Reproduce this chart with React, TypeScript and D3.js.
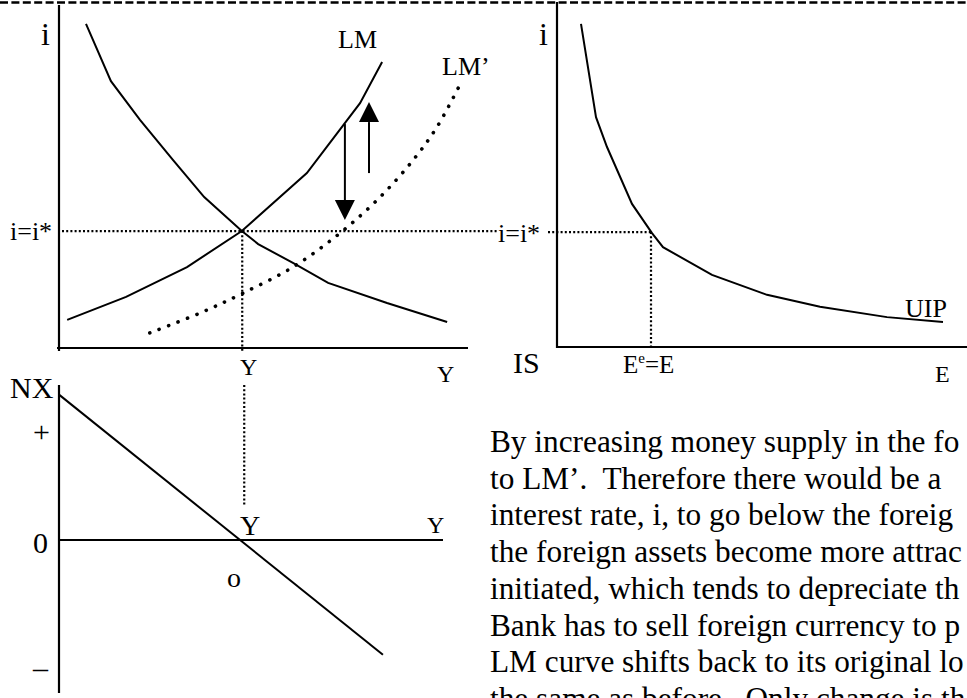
import React from "react";
import * as d3 from "d3";

// ---- Data (economic units) ----
// Top-left panel: output Y (0..100) vs interest rate i (0..100)
const isY = [6.6, 12.7, 19.8, 27.9, 35.5, 44.7, 48.7, 57.2, 65.8, 80.2, 94.9];
const isI = [94.5, 77.8, 66.5, 54.8, 44.0, 34.1, 30.3, 24.8, 19.0, 13.1, 7.6];
const lmY = [2.0, 16.4, 31.3, 44.7, 60.6, 73.6, 79.0];
const lmI = [8.2, 14.9, 23.6, 34.1, 51.0, 71.4, 83.4];
const lm2Y = [22.2, 34.5, 45.0, 57.2, 68.7, 78.5, 86.6, 92.4, 98.0];
const lm2I = [4.4, 10.2, 16.0, 23.6, 33.5, 44.0, 54.8, 64.4, 76.7];
const iStar = 34.1;
const yStar = 44.8;
// arrows: [Y, from i, to i]
const arrowDown = [69.9, 65.3, 37.3];
const arrowUp = [75.8, 51.0, 71.7];

// Top-right panel: exchange rate E (0..100) vs i
const uipE = [6.0, 9.75, 12.5, 18.75, 23.75, 26.5, 38.75, 52.5, 65.75, 82.5, 96.5];
const uipI = [94.5, 67.3, 58.6, 42.0, 33.5, 29.4, 21.3, 15.5, 12.0, 9.0, 7.6];
const eStar = 23.5;

// Bottom-left panel: Y vs net exports NX (-1..1)
const nxY = [0, 79.2];
const nxV = [0.95, -0.75];

// Paragraph lines, as far as they are visible in the picture
const paragraph = [
  "By increasing money supply in the fo",
  "to LM\u2019.  Therefore there would be a",
  "interest rate, i, to go below the foreig",
  "the foreign assets become more attrac",
  "initiated, which tends to depreciate th",
  "Bank has to sell foreign currency to p",
  "LM curve shifts back to its original lo",
  "the same as before.  Only change is th",
];

const FONT = "'Liberation Serif', 'Times New Roman', Times, serif";

export default function App() {
  const W = 967;
  const H = 698;
  const xY = d3.scaleLinear().domain([0, 100]).range([59, 468]);
  const yI = d3.scaleLinear().domain([0, 100]).range([348, 5]);
  const xE = d3.scaleLinear().domain([0, 100]).range([557, 957]);
  const yNX = d3.scaleLinear().domain([-1, 1]).range([693, 387]);

  const lineYI = d3
    .line<[number, number]>()
    .x((d) => xY(d[0]))
    .y((d) => yI(d[1]));
  const smoothYI = d3
    .line<[number, number]>()
    .x((d) => xY(d[0]))
    .y((d) => yI(d[1]))
    .curve(d3.curveCatmullRom);
  const lineEI = d3
    .line<[number, number]>()
    .x((d) => xE(d[0]))
    .y((d) => yI(d[1]));
  const lineNX = d3
    .line<[number, number]>()
    .x((d) => xY(d[0]))
    .y((d) => yNX(d[1]));

  const isPts = isY.map((v, k) => [v, isI[k]] as [number, number]);
  const lmPts = lmY.map((v, k) => [v, lmI[k]] as [number, number]);
  const lm2Pts = lm2Y.map((v, k) => [v, lm2I[k]] as [number, number]);
  const uipPts = uipE.map((v, k) => [v, uipI[k]] as [number, number]);
  const nxPts = nxY.map((v, k) => [v, nxV[k]] as [number, number]);

  const yi = yI(iStar);
  const xs = xY(yStar);
  const xe = xE(eStar);
  const dotted = { stroke: "#000", strokeWidth: 2.2, strokeDasharray: "2 2.2", fill: "none" };

  const arrow = (a: number[], key: string) => {
    const x = xY(a[0]);
    const y0 = yI(a[1]);
    const y1 = yI(a[2]);
    const dir = y1 > y0 ? 1 : -1;
    const base = y1 - dir * 20;
    return (
      <g key={key}>
        <line x1={x} y1={y0} x2={x} y2={base} stroke="#000" strokeWidth={2} />
        <path d={`M${x - 10},${base} L${x + 10},${base} L${x},${y1} Z`} fill="#000" />
      </g>
    );
  };

  const lab = { fontFamily: FONT, fill: "#000" } as const;

  return (
    <svg
      width={W}
      height={H}
      style={{ position: "absolute", left: 0, top: 0, background: "#fff" }}
    >
      <rect x={0} y={0} width={W} height={H} fill="#fff" />
      {/* top dashed border */}
      <line x1={0} y1={2.5} x2={W} y2={2.5} stroke="#000" strokeWidth={2.6} strokeDasharray="8 3.4" />

      {/* Top-left axes */}
      <line x1={xY(0)} y1={5} x2={xY(0)} y2={351} stroke="#000" strokeWidth={2.2} />
      <line x1={57} y1={yI(0)} x2={xY(100)} y2={yI(0)} stroke="#000" strokeWidth={2.2} />

      {/* i = i* dotted across */}
      <line x1={62} y1={yi} x2={497} y2={yi} style={dotted} />
      <line x1={548} y1={yi + 1} x2={xe} y2={yi + 1} style={dotted} />
      {/* vertical dotted at Y* */}
      <line x1={xs} y1={yi} x2={xs} y2={352} style={dotted} />
      <line x1={xs + 2} y1={385} x2={xs + 2} y2={506} style={dotted} />
      {/* vertical dotted at E* */}
      <line x1={xe} y1={yi + 1} x2={xe} y2={346} style={dotted} />

      {/* curves */}
      <path d={lineYI(isPts) || ""} fill="none" stroke="#000" strokeWidth={2} />
      <path d={lineYI(lmPts) || ""} fill="none" stroke="#000" strokeWidth={2} />
      <path
        d={smoothYI(lm2Pts) || ""}
        fill="none"
        stroke="#000"
        strokeWidth={3.6}
        strokeLinecap="round"
        strokeDasharray="0.1 10"
      />
      {arrow(arrowDown, "down")}
      {arrow(arrowUp, "up")}

      {/* Top-right axes */}
      <line x1={xE(0)} y1={2} x2={xE(0)} y2={348} stroke="#000" strokeWidth={2.2} />
      <line x1={xE(0)} y1={347} x2={W} y2={347} stroke="#000" strokeWidth={2.2} />
      <path d={lineEI(uipPts) || ""} fill="none" stroke="#000" strokeWidth={2} />

      {/* Bottom-left panel */}
      <line x1={xY(0)} y1={385} x2={xY(0)} y2={693} stroke="#000" strokeWidth={2.2} />
      <line x1={xY(0)} y1={yNX(0)} x2={443} y2={yNX(0)} stroke="#000" strokeWidth={2} />
      <path d={lineNX(nxPts) || ""} fill="none" stroke="#000" strokeWidth={2} />

      {/* labels top-left */}
      <text x={41} y={45} fontSize={32} {...lab}>i</text>
      <text x={338} y={48} fontSize={26} {...lab}>LM</text>
      <text x={442} y={75} fontSize={26} {...lab}>LM’</text>
      <text x={10} y={240} fontSize={26} {...lab}>i=i*</text>
      <text x={240} y={375} fontSize={24} {...lab}>Y</text>
      <text x={437} y={382} fontSize={24} {...lab}>Y</text>

      {/* labels top-right */}
      <text x={539} y={45} fontSize={32} {...lab}>i</text>
      <text x={498} y={242} fontSize={26} {...lab}>i=i*</text>
      <text x={905} y={317} fontSize={26} {...lab}>UIP</text>
      <text x={513} y={373} fontSize={30} {...lab}>IS</text>
      <text x={623} y={373} fontSize={25} {...lab}>
        E<tspan fontSize={15} dy={-10}>e</tspan>
        <tspan dy={10}>=E</tspan>
      </text>
      <text x={935} y={382} fontSize={24} {...lab}>E</text>

      {/* labels bottom-left */}
      <text x={10} y={398} fontSize={30} {...lab}>NX</text>
      <text x={33} y={442} fontSize={30} {...lab}>+</text>
      <text x={33} y={553} fontSize={30} {...lab}>0</text>
      <text x={33} y={678} fontSize={30} {...lab}>–</text>
      <text x={240} y={535} fontSize={28} {...lab}>Y</text>
      <text x={427} y={533} fontSize={24} {...lab}>Y</text>
      <text x={227} y={587} fontSize={28} {...lab}>o</text>

      {/* paragraph */}
      {paragraph.map((t, k) => (
        <text
          key={k}
          x={490}
          y={452 + k * 36.7}
          fontSize={31.3}
          style={{ whiteSpace: "pre" }}
          {...lab}
        >
          {t}
        </text>
      ))}
    </svg>
  );
}
